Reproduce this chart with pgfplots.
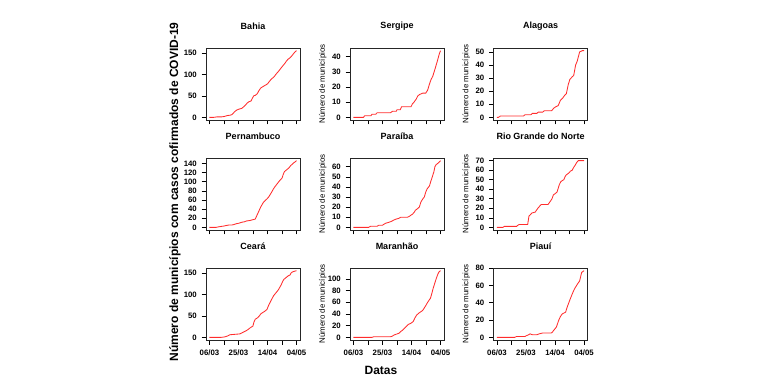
\documentclass[border=0pt]{standalone}
\usepackage{fontspec}
\setmainfont{Liberation Sans}
\usepackage{pgfplots}
\pgfplotsset{compat=1.18}
\pgfplotsset{
  panel/.style={
    scale only axis, width=94pt, height=72pt,
    anchor=south west,
    xmin=-2.36, xmax=61.36,
    axis line style={black!85, line width=0.7pt},
    tick style={black, line width=0.55pt},
    tick align=outside, major tick length=4.5pt,
    xtick pos=bottom, ytick pos=left,
    xtick={0,9.8333,19.6667,29.5,39.3333,49.1667,59},
    xticklabels={},
    /pgf/number format/assume math mode=true,
    ticklabel style={font=\fontsize{7.8}{8}\selectfont\bfseries},
    yticklabel style={xshift=-1.2pt},
    xticklabel style={yshift=-1.5pt},
    title style={font=\fontsize{9}{10}\selectfont\bfseries, at={(0.5,1)}, anchor=center, yshift=16pt},
    ylabel style={font=\fontsize{7.9}{8}\selectfont, at={(axis description cs:-0.29,0.5)}, anchor=center},
    scaled y ticks=false,
  },
  bottomrow/.style={xticklabels={06/03,,25/03,,14/04,,04/05}},
  curve/.style={color={rgb,255:red,255;green,45;blue,45}, line width=0.85pt, no marks},
}
\begin{document}
\begin{tikzpicture}
\path[use as bounding box] (0,0) rectangle (768pt,383pt);
% Row 1
\begin{axis}[panel, at={(206pt,263pt)}, title={Bahia}, ymin=-6.2, ymax=161.2, ytick={0,50,100,150}]
\addplot[curve] coordinates {(0,0)(3,0)(5,1)(8,1)(10,2)(12,4)(14,5)(15,6)(16,9)(17,13)(18.5,17)(20,19)(22,21)(23,24)(24.3,28)(25.5,33)(26.6,36)(28.2,38)(29,44)(30,50)(31,51)(32.4,55)(33.5,62)(34.7,68)(36,71)(37,73)(38.5,76)(39.4,78)(40.5,83)(41.7,88)(43,92)(44,95)(45,100)(46.3,105)(47.5,110)(48.6,115)(50,121)(51,125)(52,130)(53.2,135)(54.5,138)(55.6,142)(56.5,146)(57.9,152)(59,155)};
\end{axis}
\begin{axis}[panel, at={(350pt,263pt)}, title={Sergipe}, ylabel={Número de municípios}, ymin=-1.76, ymax=45.76, ytick={0,10,20,30,40}]
\addplot[curve] coordinates {(0,0)(6.8,0)(7.5,1)(11.8,1)(12.5,2)(15,2)(16,3)(25,3)(26.5,4)(29,4)(29.5,5)(31.7,5)(32.6,7)(39,7)(40,9)(41,10)(42.5,12)(43.5,14)(44.7,15)(45.8,15.5)(47,16)(49,16)(50.3,18)(51.5,22)(52.6,25)(53.7,27)(55.3,32)(56.2,35)(57.1,38)(58.2,42)(59,44)};
\end{axis}
\begin{axis}[panel, at={(493.5pt,263pt)}, title={Alagoas}, ylabel={Número de municípios}, ymin=-2.04, ymax=53.04, ytick={0,10,20,30,40,50}]
\addplot[curve] coordinates {(0,0)(1,0)(2.3,1)(18,1)(19,2)(23,2)(24,3)(27,3)(28,4)(31,4)(32,5)(37,5)(38.5,7)(39.7,8)(41.5,9)(43,13)(44.7,15)(46,17)(47,18)(48.3,25)(49.4,29)(51,31)(52,32)(53.3,40)(54.4,43)(56,50)(57.8,51)(59,51)};
\end{axis}
% Row 2
\begin{axis}[panel, at={(206pt,153pt)}, title={Pernambuco}, ymin=-5.84, ymax=151.84, ytick={0,20,40,60,80,100,120,140}]
\addplot[curve] coordinates {(0,0)(4.6,0)(6,1)(8,2)(10,3)(11.4,4)(13,5)(14.9,5)(16.5,6)(18.3,8)(20,9)(21.7,11)(23.5,12)(25.2,14)(27.5,15)(29.7,17)(31,18)(32.7,30)(34.8,45)(36.6,55)(37.5,58)(38.9,62)(40,66)(41.2,72)(42.3,78)(43.5,85)(44.6,90)(45.8,95)(47.5,102)(49.2,108)(50,116)(50.8,122)(52.3,126)(53.8,130)(55,135)(56,138)(57,141)(57.9,143)(59,146)};
\end{axis}
\begin{axis}[panel, at={(350pt,153pt)}, title={Paraíba}, ylabel={Número de municípios}, ymin=-2.64, ymax=68.64, ytick={0,10,20,30,40,50,60}]
\addplot[curve] coordinates {(0,0)(10.3,0)(11.5,1)(16,1)(17,2)(19.5,2)(21.7,4)(24,5)(25.9,6)(27,7)(28.6,8)(30.9,9)(32,10)(36.6,10)(38,11)(38.9,12)(40,13)(41.2,15)(42,17)(43,18)(44.6,20)(45.7,25)(46.9,28)(48,30)(49,35)(49.9,38)(51.5,41)(52.3,45)(53,48)(54.5,55)(55.2,60)(56,62)(57.7,64)(59,66)};
\end{axis}
\begin{axis}[panel, at={(493.5pt,153pt)}, title={Rio Grande do Norte}, ylabel={Número de municípios}, ymin=-2.8, ymax=72.8, ytick={0,10,20,30,40,50,60,70}]
\addplot[curve] coordinates {(0,0)(4,0)(5,1)(13.3,1)(14,2)(15,3)(20.8,3)(21.7,12)(22.5,13)(23.6,15)(25.9,16)(26.8,18)(27.7,20)(28.8,22)(30,24)(34.6,24)(36,27)(37.3,30)(38.2,34)(39.1,35)(40.7,37)(41.5,41)(42.3,45)(43.3,48)(44.2,49)(45.3,50)(46.1,53)(46.9,55)(48.7,57)(49.8,59)(51,60)(52,63)(52.9,65)(54,68)(55.1,70)(59,70)};
\end{axis}
% Row 3
\begin{axis}[panel, bottomrow, at={(206pt,43pt)}, title={Ceará}, ymin=-6.2, ymax=161.2, ytick={0,50,100,150}]
\addplot[curve] coordinates {(0,0)(8,0)(10.3,1)(11.2,2)(12.2,3)(13.8,6)(17.2,7)(20.6,8)(21.8,10)(22.9,12)(25.2,16)(26.5,19)(27.5,22)(29.4,26)(30.2,36)(31,42)(32.8,46)(33.8,50)(34.9,55)(37.2,60)(38,62)(39,65)(39.8,72)(40.6,78)(41.5,84)(42.4,90)(43.5,97)(44.7,102)(46.6,110)(47.6,116)(48.6,122)(49.6,130)(50.5,135)(52.3,140)(53.4,143)(54.6,145)(55.4,150)(56.2,152)(58,154)(59,155)};
\end{axis}
\begin{axis}[panel, bottomrow, at={(350pt,43pt)}, title={Maranhão}, ylabel={Número de municípios}, ymin=-4.56, ymax=118.56, ytick={0,20,40,60,80,100}]
\addplot[curve] coordinates {(0,0)(12.6,0)(13.7,1)(25,1)(26.3,2)(27.5,4)(28.6,5)(30.9,7)(32,10)(33.2,12)(34.8,16)(36,19)(37.1,22)(38.9,24)(40.5,27)(41.6,33)(42.8,38)(44.6,42)(45.8,44)(46.9,46)(48.7,53)(50.3,60)(52.2,67)(53,74)(53.8,82)(55.4,95)(56.3,102)(57.2,108)(58,112)(59,114)};
\end{axis}
\begin{axis}[panel, bottomrow, at={(493.5pt,43pt)}, title={Piauí}, ylabel={Número de municípios}, ymin=-3.08, ymax=80.08, ytick={0,20,40,60,80}]
\addplot[curve] coordinates {(0,0)(12,0)(13.3,1)(19,1)(20,2)(21.5,3)(22.4,4)(24,3)(27,3)(28.6,4)(30.9,5)(36.8,5)(37.6,6)(38.4,8)(39.4,10)(40.3,12)(41.1,16)(41.9,20)(43,24)(44.2,27)(45.3,28)(46.5,29)(47.6,35)(48.7,40)(49.8,45)(51,50)(52,54)(52.9,57)(54,60)(54.7,62)(56,65)(56.7,70)(57.4,75)(59,77)};
\end{axis}
\node[rotate=90, font=\fontsize{12}{13}\selectfont\bfseries] at (175pt,191pt) {Número de municípios com casos cofirmados de COVID-19};
\node[font=\fontsize{12}{13}\selectfont\bfseries] at (381pt,13pt) {Datas};
\end{tikzpicture}
\end{document}
